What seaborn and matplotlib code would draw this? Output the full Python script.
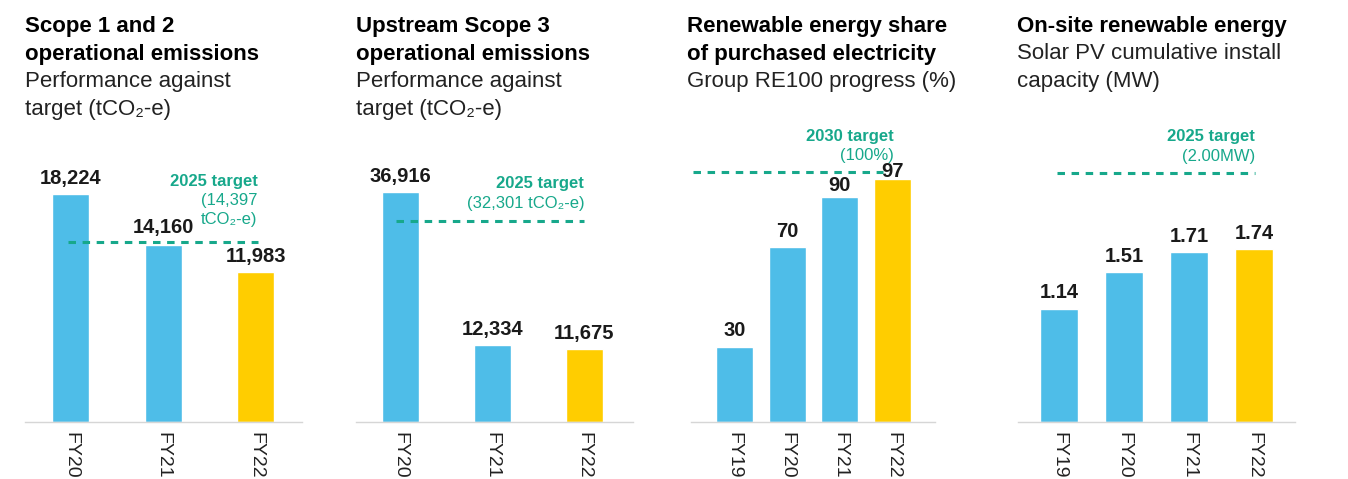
import numpy as np
import pandas as pd
import seaborn as sns
import matplotlib.pyplot as plt

# ---- data ----
scope12_years = ["FY20", "FY21", "FY22"]
scope12_values = [18224, 14160, 11983]
scope12_target = 14397

scope3_years = ["FY20", "FY21", "FY22"]
scope3_values = [36916, 12334, 11675]
scope3_target = 32301

re_years = ["FY19", "FY20", "FY21", "FY22"]
re_values = [30, 70, 90, 97]
re_target = 100

solar_years = ["FY19", "FY20", "FY21", "FY22"]
solar_values = [1.14, 1.51, 1.71, 1.74]
solar_target = 2.00
# the dashed line in the source sits at ~2.5 on the bar scale, not at 2.00
solar_target_line = 2.5

BLUE = "#4EBDE8"
YELLOW = "#FFCD00"
TEAL = "#17A88B"
INK = "#1a1a1a"

sns.set_style("white")
plt.rcParams["font.family"] = ["Liberation Sans", "DejaVu Sans"]

W, H = 1348, 479
fig = plt.figure(figsize=(W / 100, H / 100), dpi=100)


def fx(px):
    return px / W


def fy(py):
    return 1 - py / H


def make_axes(left, right, top=130, base=422):
    return fig.add_axes([fx(left), fy(base), (right - left) / W, (base - top) / H])


def title(x, lines):
    for txt, bold, y in lines:
        fig.text(fx(x), fy(y), txt, fontsize=16, va="baseline", ha="left",
                 fontweight="bold" if bold else "normal",
                 color="black" if bold else "#222222")


def panel(ax, years, values, labels, width, xlim, ylim_top, pads=None):
    colors = [BLUE] * (len(years) - 1) + [YELLOW]
    df = pd.DataFrame({"year": years, "value": values})
    sns.barplot(data=df, x="year", y="value", hue="year", palette=colors,
                legend=False, width=width, saturation=1, ax=ax)
    if pads is None:
        pads = [4.5] * len(labels)
    for cont, lab, pad in zip(ax.containers, labels, pads):
        ax.bar_label(cont, labels=[lab], padding=pad, fontsize=14.5,
                     fontweight="bold", color=INK)
    ax.set_xlim(*xlim)
    ax.set_ylim(0, ylim_top)
    ax.set_xlabel("")
    ax.set_ylabel("")
    ax.set_yticks([])
    ax.tick_params(axis="x", labelrotation=-90, length=0, pad=7,
                   labelsize=14, labelcolor="#222222")
    for s in ["top", "left", "right"]:
        ax.spines[s].set_visible(False)
    ax.spines["bottom"].set_color("#d6d6d6")
    ax.spines["bottom"].set_linewidth(1)


def target(ax, level, x0, x1, texts, tx=None):
    ax.hlines(level, x0, x1, color=TEAL, lw=2.2, linestyle=(0, (2.45, 2.16)), zorder=1)
    if tx is None:
        tx = x1
    for txt, bold, up in texts:
        ax.annotate(txt, xy=(tx, level), xytext=(0, up * 0.72),
                    textcoords="offset points", ha="right", va="baseline",
                    fontsize=12, color=TEAL, annotation_clip=False,
                    fontweight="bold" if bold else "normal")


# Scope 1 and 2
ax1 = make_axes(25, 302)
panel(ax1, scope12_years, scope12_values, [f"{v:,}" for v in scope12_values],
      0.4, (-0.49, 2.5), 292 * 80, pads=[4.5, 6, 4.5])
target(ax1, scope12_target, -0.03, 2.02,
       [("2025 target", True, 56), (f"({scope12_target:,}", False, 37), ("tCO₂-e)", False, 18)])
title(25, [("Scope 1 and 2", True, 32), ("operational emissions", True, 60),
           ("Performance against", False, 87), ("target (tCO₂-e)", False, 115)])

# Upstream Scope 3
ax2 = make_axes(356, 633)
panel(ax2, scope3_years, scope3_values, [f"{v:,}" for v in scope3_values],
      0.4, (-0.48, 2.53), 292 * 160.5)
target(ax2, scope3_target, -0.04, 2.0,
       [("2025 target", True, 33), (f"({scope3_target:,} tCO₂-e)", False, 13)])
title(356, [("Upstream Scope 3", True, 32), ("operational emissions", True, 60),
            ("Performance against", False, 87), ("target (tCO₂-e)", False, 115)])

# Renewable share
ax3 = make_axes(691, 935)
panel(ax3, re_years, re_values, [f"{v}" for v in re_values],
      0.7, (-0.82, 3.8), 292 / 2.5, pads=[5, 4.5, 1.5, -1])
target(ax3, re_target, -0.79, 2.81,
       [("2030 target", True, 31), (f"({re_target}%)", False, 12)], tx=3.02)
title(687, [("Renewable energy share", True, 32), ("of purchased electricity", True, 60),
            ("Group RE100 progress (%)", False, 87)])

# On-site solar
ax4 = make_axes(1018, 1295)
panel(ax4, solar_years, solar_values, [f"{v:.2f}" for v in solar_values],
      0.585, (-0.63, 3.63), 292 / 99.4)
target(ax4, solar_target_line, -0.03, 3.02,
       [("2025 target", True, 32), (f"({solar_target:.2f}MW)", False, 12)])
title(1017, [("On-site renewable energy", True, 32), ("Solar PV cumulative install", False, 59),
             ("capacity (MW)", False, 87)])

fig.savefig("out.png", dpi=100, facecolor="white")
